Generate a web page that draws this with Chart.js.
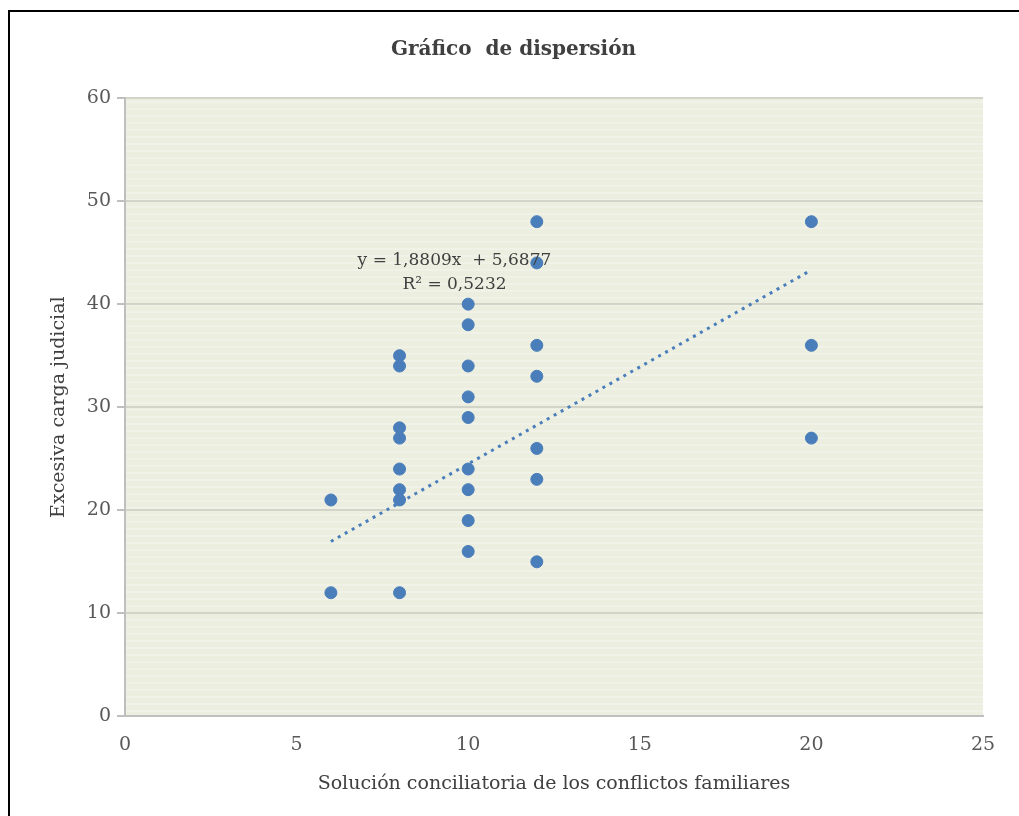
<!DOCTYPE html>
<html>
<head>
<meta charset="utf-8">
<script src="https://cdn.jsdelivr.net/npm/chart.js@4.4.0/dist/chart.umd.min.js"></script>
<style>
  html, body { margin: 0; padding: 0; background: #ffffff; }
  #wrap { position: relative; width: 1019px; height: 816px; }
  #frame { position: absolute; left: 8px; top: 10px; width: 1030px; height: 830px; border: 2px solid #000; box-sizing: border-box; pointer-events: none; }
  canvas { position: absolute; left: 0; top: 0; }
</style>
</head>
<body>
<div id="wrap">
  <canvas id="grafico" width="1019" height="816"></canvas>
  <div id="frame"></div>
</div>
<script>
// Datos
const solucionX = [6, 6, 8, 8, 8, 8, 8, 8, 8, 8, 10, 10, 10, 10, 10, 10, 10, 10, 10, 12, 12, 12, 12, 12, 12, 12, 20, 20, 20];
const cargaY = [21, 12, 35, 34, 28, 27, 24, 22, 21, 12, 40, 38, 34, 31, 29, 24, 22, 19, 16, 48, 44, 36, 33, 26, 23, 15, 48, 36, 27];

// Linea de tendencia (y = 1,8809x + 5,6877) entre x = 6 y x = 20
const tendenciaX = [6, 20];
const tendenciaY = [16.97, 43.31];

const ecuacion = ["y = 1,8809x  + 5,6877", "R\u00b2 = 0,5232"];
const ecuacionPos = { x: 9.6, y: 44.2 };

const ticksX = [0, 5, 10, 15, 20, 25];
const ticksY = [0, 10, 20, 30, 40, 50, 60];

const fuente = "'DejaVu Serif', 'Liberation Serif', serif";

// Fondo del area de trazado con rayas suaves
const fondoPlugin = {
    id: "fondo",
    beforeDraw(chart) {
        const { ctx, chartArea: a } = chart;
        ctx.save();
        ctx.fillStyle = "#eceedf";
        ctx.fillRect(a.left, a.top, a.right - a.left, a.bottom - a.top);
        ctx.fillStyle = "rgba(255,255,255,0.25)";
        for (let y = a.top + 3; y < a.bottom; y += 7) {
            ctx.fillRect(a.left, y, a.right - a.left, 2);
        }
        ctx.restore();
    }
};

// Texto de la ecuacion
const ecuacionPlugin = {
    id: "ecuacion",
    afterDatasetsDraw(chart) {
        const { ctx, scales } = chart;
        const px = scales.x.getPixelForValue(ecuacionPos.x);
        const py = scales.y.getPixelForValue(ecuacionPos.y);
        ctx.save();
        ctx.font = "17px " + fuente;
        ctx.fillStyle = "#404040";
        ctx.textAlign = "center";
        ctx.textBaseline = "middle";
        ctx.fillText(ecuacion[0], px, py);
        ctx.fillText(ecuacion[1], px, py + 24);
        ctx.restore();
    }
};

new Chart(document.getElementById("grafico"), {
    type: "scatter",
    data: {
        datasets: [
            {
                label: "Puntos",
                data: solucionX.map((x, i) => ({ x: x, y: cargaY[i] })),
                backgroundColor: "#4a7ebb",
                borderColor: "#4a7ebb",
                pointRadius: 6,
                pointHoverRadius: 6
            },
            {
                label: "Tendencia",
                type: "line",
                data: tendenciaX.map((x, i) => ({ x: x, y: tendenciaY[i] })),
                borderColor: "#4a7ebb",
                borderWidth: 3,
                borderDash: [3, 5],
                pointRadius: 0,
                fill: false
            }
        ]
    },
    options: {
        responsive: false,
        animation: false,
        layout: { padding: { left: 44, right: 36, top: 20, bottom: 17 } },
        plugins: {
            legend: { display: false },
            tooltip: { enabled: false },
            title: {
                display: true,
                text: "Gr\u00e1fico  de dispersi\u00f3n",
                color: "#404040",
                font: { family: fuente, size: 20, weight: "bold" },
                padding: { top: 18, bottom: 36 }
            }
        },
        scales: {
            x: {
                type: "linear",
                min: 0,
                max: 25,
                afterBuildTicks: (axis) => { axis.ticks = ticksX.map(v => ({ value: v })); },
                grid: { display: false, drawOnChartArea: false, tickLength: 8, color: "#bfbfbf" },
                border: { color: "#bfbfbf", width: 2 },
                ticks: { color: "#595959", font: { family: fuente, size: 19 }, padding: 9 },
                title: {
                    display: true,
                    text: "Soluci\u00f3n conciliatoria de los conflictos familiares",
                    color: "#404040",
                    font: { family: fuente, size: 19 },
                    padding: { top: 7 }
                }
            },
            y: {
                type: "linear",
                min: 0,
                max: 60,
                afterBuildTicks: (axis) => { axis.ticks = ticksY.map(v => ({ value: v })); },
                grid: { color: "#d3d4c8", lineWidth: 2, tickLength: 8, tickColor: "#bfbfbf" },
                border: { color: "#bfbfbf", width: 2 },
                ticks: { color: "#595959", font: { family: fuente, size: 19 }, padding: 6 },
                title: {
                    display: true,
                    text: "Excesiva carga judicial",
                    color: "#404040",
                    font: { family: fuente, size: 19 },
                    padding: { bottom: 10 }
                }
            }
        }
    },
    plugins: [fondoPlugin, ecuacionPlugin]
});
</script>
</body>
</html>
